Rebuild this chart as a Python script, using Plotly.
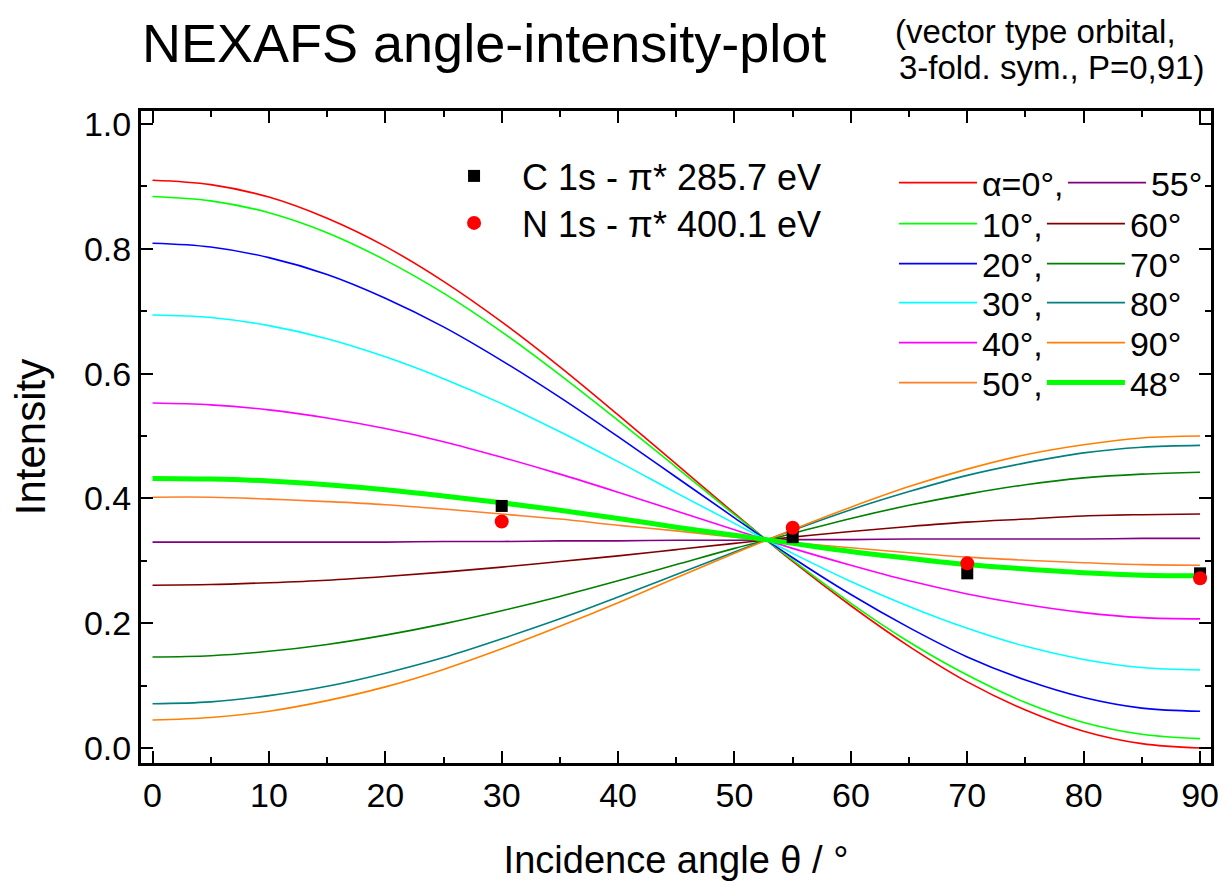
import plotly.graph_objects as go

theta = [0, 5, 10, 15, 20, 25, 30, 35, 40, 45, 50, 55, 60, 65, 70, 75, 80, 85, 90]

alpha_labels = ["α=0°,", "10°,", "20°,", "30°,", "40°,", "50°,",
                "55°", "60°", "70°", "80°", "90°", "48°"]
curves = [
    [0.910, 0.903, 0.883, 0.849, 0.804, 0.748, 0.683, 0.611, 0.534, 0.455, 0.376, 0.299, 0.228, 0.163, 0.106, 0.061, 0.027, 0.007, 0.000],
    [0.884, 0.877, 0.858, 0.826, 0.782, 0.729, 0.667, 0.598, 0.525, 0.450, 0.374, 0.301, 0.232, 0.170, 0.117, 0.073, 0.041, 0.022, 0.015],
    [0.809, 0.803, 0.786, 0.759, 0.721, 0.675, 0.621, 0.562, 0.499, 0.434, 0.369, 0.305, 0.246, 0.193, 0.146, 0.109, 0.081, 0.064, 0.059],
    [0.694, 0.690, 0.677, 0.656, 0.627, 0.592, 0.552, 0.507, 0.459, 0.409, 0.360, 0.312, 0.267, 0.227, 0.192, 0.163, 0.142, 0.129, 0.125],
    [0.553, 0.550, 0.542, 0.529, 0.512, 0.491, 0.466, 0.439, 0.410, 0.380, 0.350, 0.320, 0.293, 0.268, 0.247, 0.230, 0.217, 0.209, 0.207],
    [0.402, 0.402, 0.399, 0.395, 0.390, 0.383, 0.375, 0.367, 0.357, 0.348, 0.338, 0.329, 0.321, 0.313, 0.306, 0.301, 0.297, 0.294, 0.293],
    [0.330, 0.330, 0.330, 0.330, 0.330, 0.331, 0.331, 0.332, 0.332, 0.333, 0.333, 0.334, 0.334, 0.335, 0.335, 0.335, 0.335, 0.336, 0.336],
    [0.261, 0.262, 0.265, 0.269, 0.275, 0.282, 0.290, 0.299, 0.308, 0.318, 0.328, 0.338, 0.347, 0.355, 0.362, 0.367, 0.372, 0.374, 0.375],
    [0.146, 0.148, 0.155, 0.166, 0.181, 0.199, 0.220, 0.243, 0.268, 0.294, 0.320, 0.344, 0.368, 0.389, 0.407, 0.422, 0.433, 0.439, 0.442],
    [0.071, 0.074, 0.084, 0.099, 0.120, 0.145, 0.175, 0.207, 0.242, 0.278, 0.314, 0.349, 0.382, 0.411, 0.437, 0.457, 0.473, 0.482, 0.485],
    [0.045, 0.049, 0.059, 0.076, 0.098, 0.126, 0.159, 0.195, 0.233, 0.273, 0.312, 0.350, 0.386, 0.419, 0.447, 0.470, 0.486, 0.497, 0.500],
    [0.432, 0.431, 0.428, 0.422, 0.414, 0.404, 0.393, 0.381, 0.368, 0.354, 0.341, 0.328, 0.315, 0.304, 0.294, 0.287, 0.281, 0.277, 0.276],
]
colors = ["#FF0000", "#00FF00", "#0000FF", "#00FFFF", "#FF00FF", "#FF7F27",
          "#800080", "#800000", "#008000", "#008080", "#FF8000", "#00FF00"]
widths = [1.6] * 11 + [5]

c_theta = [30, 55, 70, 90]
c_int = [0.388, 0.338, 0.280, 0.280]
n_theta = [30, 55, 70, 90]
n_int = [0.363, 0.353, 0.296, 0.272]

FONT = "Arial, Liberation Sans, sans-serif"

fig = go.Figure()
for i, (lab, ys, col, w) in enumerate(zip(alpha_labels, curves, colors, widths)):
    fig.add_trace(go.Scatter(x=theta, y=ys, mode="lines", name=lab,
                             line=dict(color=col, width=w, shape="spline"),
                             legend=f"legend{i + 2}"))

fig.add_trace(go.Scatter(x=c_theta, y=c_int, mode="markers", name="C 1s - π* 285.7 eV",
                         marker=dict(symbol="square", size=12, color="black"), legend="legend"))
fig.add_trace(go.Scatter(x=n_theta, y=n_int, mode="markers", name="N 1s - π* 400.1 eV",
                         marker=dict(symbol="circle", size=14, color="#FF0000"), legend="legend14"))

axis_common = dict(
    showline=True, linecolor="black", linewidth=3, mirror="allticks",
    ticks="inside", ticklen=12, tickwidth=2.2, tickcolor="black",
    showgrid=False, zeroline=False, automargin=False,
    tickfont=dict(family=FONT, size=34, color="black"),
)

fig.update_xaxes(range=[-0.99, 90.94], tickmode="array",
                 tickvals=[0, 10, 20, 30, 40, 50, 60, 70, 80, 90],
                 minor=dict(ticks="inside", ticklen=6, tickwidth=2, tickcolor="black", dtick=5, tick0=0),
                 title=dict(text="Incidence angle θ / °", font=dict(family=FONT, size=38, color="black"), standoff=34),
                 **axis_common)
fig.update_yaxes(range=[-0.024, 1.021], tickmode="array",
                 tickvals=[0.0, 0.2, 0.4, 0.6, 0.8, 1.0], tickformat=".1f",
                 minor=dict(ticks="inside", ticklen=6, tickwidth=2, tickcolor="black", dtick=0.1, tick0=0),
                 title=dict(text="Intensity", font=dict(family=FONT, size=42, color="black"), standoff=26),
                 **axis_common)

def leg(x, y, size, itemwidth=30, xref="paper"):
    return dict(bgcolor="rgba(0,0,0,0)", borderwidth=0,
                font=dict(family=FONT, size=size, color="black"),
                x=x, y=y, xanchor="left", yanchor="middle", xref=xref, yref="paper",
                itemclick=False, itemdoubleclick=False, itemwidth=itemwidth)

row_y = [0.8896, 0.8267, 0.7653, 0.7055, 0.6442, 0.5828]
legends = {}
for r in range(6):
    legends[f"legend{r + 2}"] = leg(0.7037, row_y[r], 34, 78)
    if r == 0:
        legends["legend8"] = leg(0.8663, row_y[r], 34, 78, xref="container")
    else:
        legends[f"legend{r + 8}"] = leg(0.842, row_y[r], 34, 78)
legends["legend"] = leg(0.2664, 0.9003, 36, 86)
legends["legend14"] = leg(0.2664, 0.8282, 36, 86)

fig.update_layout(
    width=1227, height=881,
    margin=dict(l=141, r=16, t=111, b=118, autoexpand=False),
    paper_bgcolor="white", plot_bgcolor="white",
    showlegend=True,
    annotations=[
        dict(text="NEXAFS angle-intensity-plot", xref="paper", yref="paper",
             x=-0.001, y=1.104, xanchor="left", yanchor="middle", showarrow=False,
             font=dict(family=FONT, size=54, color="black")),
        dict(text="(vector type orbital,", xref="paper", yref="paper",
             x=0.703, y=1.1226, xanchor="left", yanchor="middle", showarrow=False,
             font=dict(family=FONT, size=33, color="black")),
        dict(text="3-fold. sym., P=0,91)", xref="paper", yref="paper",
             x=0.7065, y=1.066, xanchor="left", yanchor="middle", showarrow=False,
             font=dict(family=FONT, size=33, color="black")),
    ],
    **legends,
)

fig.write_html("out.html")
